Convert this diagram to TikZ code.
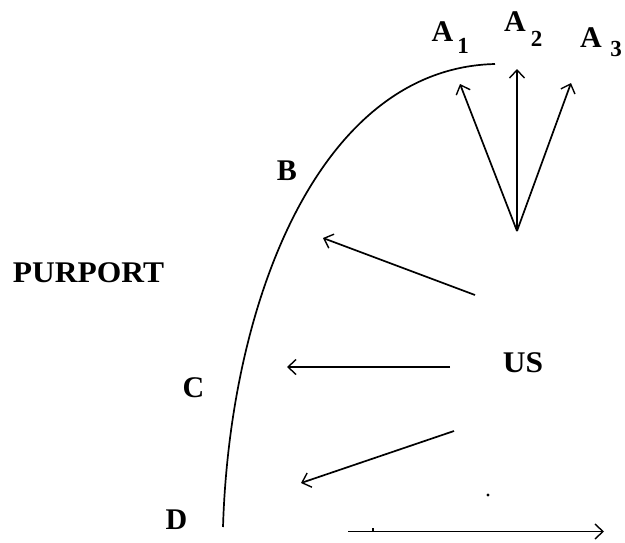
\documentclass[tikz,border=0pt]{standalone}
\usepackage{fontspec}
\setmainfont{Liberation Serif}
\usetikzlibrary{arrows.meta}
\begin{document}
\begin{tikzpicture}[x=1pt,y=-1pt,
  lbl/.style={font=\fontsize{30}{30}\selectfont\bfseries, inner sep=0pt},
  sublbl/.style={font=\fontsize{23}{23}\selectfont\bfseries, inner sep=0pt},
  arr/.style={line width=1.7pt, -{Straight Barb[length=8pt,width=15pt,line width=1.4pt]}},
  curveline/.style={line width=1.7pt}]
\useasboundingbox (0,0) rectangle (625,542);
% labels
\node[lbl, xscale=1.05] (purport) at (88.5,272.5) {PURPORT};
\node[lbl, xscale=1.05] (us) at (523,362.5) {US};
\node[lbl] (b) at (287,171) {B};
\node[lbl] (c) at (193.5,387.5) {C};
\node[lbl] (d) at (176.5,520) {D};
\node[lbl] (a1) at (442.5,32) {A};
\node[sublbl] (s1) at (463,45.5) {1};
\node[lbl] (a2) at (515,22) {A};
\node[sublbl] (s2) at (536.5,38.5) {2};
\node[lbl] (a3) at (591,38) {A};
\node[sublbl] (s3) at (616,48.5) {3};
% curve
\coordinate (cbot) at (223,527);
\coordinate (ctop) at (495,64);
\draw[curveline] (cbot) .. controls (230,300) and (320,68) .. (ctop);
% arrows
\coordinate (o) at (517,231);
\coordinate (t1) at (460,84);
\coordinate (t2) at (517,69);
\coordinate (t3) at (571,83);
\draw[arr] (o) -- (t1);
\draw[arr] (o) -- (t2);
\draw[arr] (o) -- (t3);
\coordinate (sb) at (475,295);
\coordinate (tb) at (323,238);
\draw[arr] (sb) -- (tb);
\coordinate (sc) at (450,367);
\coordinate (tc) at (287,367);
\draw[arr] (sc) -- (tc);
\coordinate (sd) at (454,431);
\coordinate (td) at (301,483);
\draw[arr] (sd) -- (td);
\coordinate (se) at (348,531.5);
\coordinate (te) at (604,531.5);
\draw[arr] (se) -- (te);
\coordinate (tick) at (373,531.5);
\draw[line width=1.4pt] (tick) -- ++(0,-3.5);
\coordinate (dot) at (488,495);
\fill (dot) circle (1.6pt);
\end{tikzpicture}
\end{document}
